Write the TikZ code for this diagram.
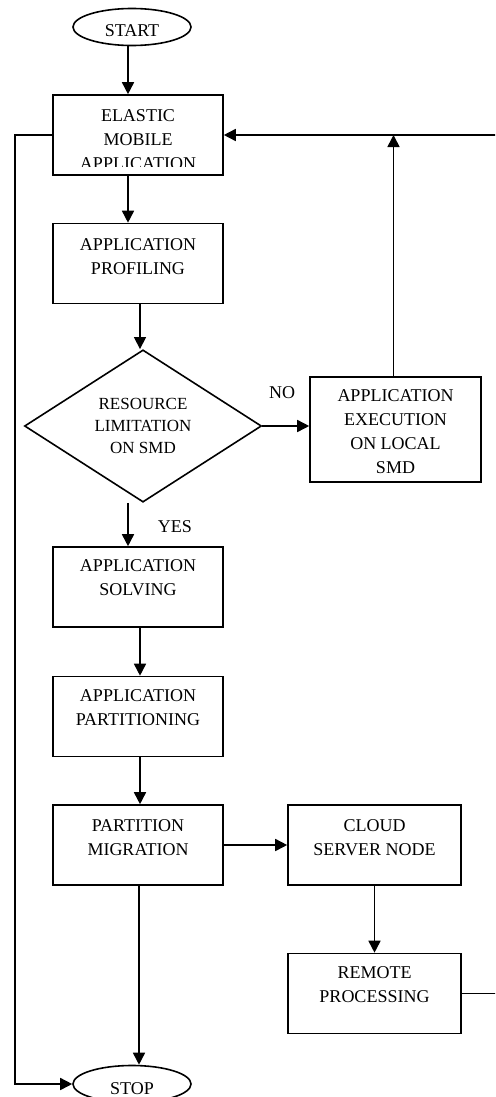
\documentclass[tikz,border=0pt]{standalone}
\usepackage{fontspec}
\setmainfont{Liberation Serif}
\usetikzlibrary{arrows.meta,positioning,shapes.geometric,calc}

\begin{document}
\begin{tikzpicture}[x=1pt,y=-1pt,line width=1.6pt,
  box/.style={draw,minimum width=170pt,minimum height=80pt,inner sep=0pt},
  oval/.style={draw,ellipse,minimum width=118pt,minimum height=37pt,inner sep=0pt,
    text height=20pt,text depth=0pt,font=\fontsize{18}{22}\selectfont},
  txt/.style={align=center,inner sep=0pt,font=\fontsize{18}{24}\selectfont},
  arr/.style={-{Triangle[length=12pt,width=12pt]}}]
\useasboundingbox (0,0) rectangle (495,1097);
\clip (0,0) rectangle (495,1097);
% start / stop
\node[oval] (start) at (132,27) {START};
\node[oval] (stop) at (132,1084) {STOP};
% left column
\node[box] (ema) at (138,135) {};
\begin{scope}
\clip (ema.north west) rectangle ($(ema.south east)+(0,-9)$);
\node[txt, below=15pt of ema.north] (emaT) {ELASTIC\\MOBILE\\APPLICATION};
\end{scope}
\node[box] (prof) at (138,263.5) {};
\node[txt, below=15pt of prof.north] (profT) {APPLICATION\\PROFILING};
\node[draw,diamond,minimum width=237pt,minimum height=142pt,inner sep=0pt,
  font=\fontsize{17}{22}\selectfont,align=center] (dia) at (143,426) {RESOURCE\\LIMITATION\\ON SMD};
\node[box] (sol) at (138,587) {};
\node[txt, below=13pt of sol.north] (solT) {APPLICATION\\SOLVING};
\node[box] (part) at (138,716.5) {};
\node[txt, below=13pt of part.north] (partT) {APPLICATION\\PARTITIONING};
\node[box] (mig) at (138,845) {};
\node[txt, below=15pt of mig.north] (migT) {PARTITION\\MIGRATION};
% right column
\node[box,minimum width=171pt,minimum height=105pt] (exec) at (395.5,429.5) {};
\node[txt, below=13pt of exec.north] (execT) {APPLICATION\\EXECUTION\\ON LOCAL\\SMD};
\node[box,minimum width=173pt] (cloud) at (374.5,845) {};
\node[txt, below=15pt of cloud.north] (cloudT) {CLOUD\\SERVER NODE};
\node[box,minimum width=173pt] (remote) at (374.5,993.5) {};
\node[txt, below=13pt of remote.north] (remoteT) {REMOTE\\PROCESSING};
% labels
\node[txt] (no) at (282,393) {NO};
\node[txt] (yes) at (175,527) {YES};
% connectors
\draw[arr] ([xshift=-4pt]start.south) -- ([xshift=-4pt]start.south |- ema.north);
\draw[arr] ([xshift=-10pt]ema.south) -- ([xshift=-10pt]prof.north);
\draw[arr] ([xshift=-3pt]dia.north |- prof.south) -- ([xshift=-3pt]dia.north);
\draw[arr] ([xshift=-10pt]sol.north |- dia.south) -- ([xshift=-10pt]sol.north);
\draw[arr] (dia.east) -- (dia.east -| exec.west);
\draw[arr] ([xshift=-2pt]exec.north) -- ([xshift=-2pt]exec.north |- ema.east);
\draw[arr] ([xshift=2pt]sol.south) -- ([xshift=2pt]part.north);
\draw[arr] ([xshift=2pt]part.south) -- ([xshift=2pt]part.north |- mig.north);
\draw[arr] (mig.east) -- (mig.east -| cloud.west);
\draw[arr] (cloud.south) -- (remote.north);
\draw[arr] ([xshift=1pt]mig.south) -- ([xshift=1pt]mig.south |- stop.north);
\draw[arr] (remote.east) -- ++(40,0) |- (ema.east);
\draw[arr] (ema.west) -- ++(-37,0) |- (stop.west);
\end{tikzpicture}
\end{document}
